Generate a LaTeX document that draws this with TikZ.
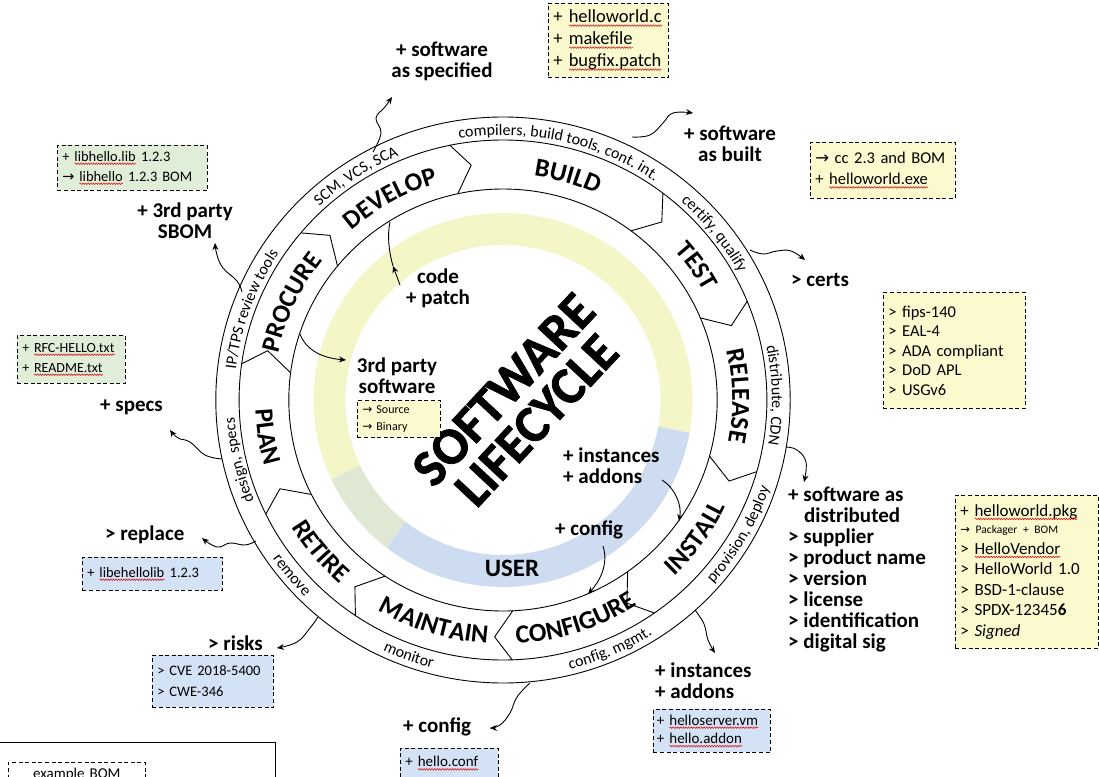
\documentclass[tikz,border=0pt]{standalone}
\usepackage{fontspec}
\setmainfont{Carlito}
\newfontfamily\symf{DejaVu Sans}
\newfontfamily\titlef[FakeBold=1.5]{Carlito}
\usetikzlibrary{decorations.text,decorations.pathmorphing,arrows.meta}
\definecolor{boxY}{HTML}{FBFACF}
\definecolor{boxG}{HTML}{E0EDD9}
\definecolor{boxB}{HTML}{D4E2F5}
\definecolor{bandY}{HTML}{F4F6C8}
\definecolor{bandG}{HTML}{E0E8D3}
\definecolor{bandB}{HTML}{CEDCF2}
\newcommand\arr{{\symf\char"2192}}
\newlength\sqlen
\newcommand\sq[1]{\settowidth\sqlen{#1}\rlap{#1}\tikz[baseline=0pt]\draw[solid,fill=none,draw=red!85!black,line width=0.5pt,decorate,decoration={snake,amplitude=0.8pt,segment length=2.6pt}] (0pt,-2.6pt) -- (\the\sqlen,-2.6pt);}
\newcommand\phf{\fontsize{26}{26}\selectfont\bfseries}
\newcommand\rgf{\fontsize{16}{16}\selectfont}
\newcommand\arcT[5]{\path[decorate,decoration={text along path,text={|#4|#5},text align=center}] plot[domain=#1:#2,samples=60] ({ex(\x,#3)},{ey(\x,#3)});}
\begin{document}
\begin{tikzpicture}[x=1pt,y=-1pt,
  declare function={ex(\a,\r)=503+1.015*\r*cos(\a); ey(\a,\r)=400-\r*sin(\a);},
  ring/.style={line width=0.9pt},
  warrow/.style={line width=0.9pt,-{Stealth[length=7pt,width=6pt]}},
  bx/.style={draw,line width=0.8pt,dash pattern=on 4pt off 2.6pt,align=left,inner xsep=5pt,inner ysep=2pt,anchor=north west},
  ybx/.style={bx,fill=boxY}, gbx/.style={bx,fill=boxG}, bbx/.style={bx,fill=boxB},
  lbl/.style={font=\fontsize{21}{21}\selectfont\bfseries,inner sep=0pt},
]
\useasboundingbox (0,0) rectangle (1099,776);
\fill[white] (0,0) rectangle (1099,776);

% coloured band
\draw[bandY,line width=32pt] plot[domain=-10:205,samples=150] ({ex(\x,171)},{ey(\x,171)});
\draw[bandG,line width=32pt] plot[domain=205:232,samples=30] ({ex(\x,171)},{ey(\x,171)});
\draw[bandB,line width=32pt] plot[domain=232:350,samples=90] ({ex(\x,171)},{ey(\x,171)});

% rings
\draw[ring] (503,400) ellipse [x radius=287.2pt,y radius=283pt];
\draw[ring] (503,400) ellipse [x radius=263.9pt,y radius=260pt];
\draw[ring] (503,400) ellipse [x radius=214.2pt,y radius=211pt];
\foreach \b in {172,140,101.6,52.7,22.3,-16,-55,-88,-124,-154}
  \draw[ring] ({ex(\b,260)},{ey(\b,260)}) -- ({ex(\b-4,237)},{ey(\b-4,237)}) -- ({ex(\b+0.6,211)},{ey(\b+0.6,211)});

% phase labels
\arcT{185}{125}{226}{\phf}{PROCURE}
\arcT{149}{89}{226}{\phf}{DEVELOP}
\arcT{104}{44}{226}{\phf}{BUILD}
\arcT{65}{5}{226}{\phf}{TEST}
\arcT{31}{-29}{226}{\phf}{RELEASE}
\arcT{-66}{-6}{244}{\phf}{INSTALL}
\arcT{-102}{-42}{244}{\phf}{CONFIGURE}
\arcT{-137}{-77}{244}{\phf}{MAINTAIN}
\arcT{-170}{-110}{244}{\phf}{RETIRE}
\arcT{-201}{-141}{244}{\phf}{PLAN}

% tool ring texts
\arcT{110}{45}{265}{\rgf}{compilers, build tools, cont. int.}
\arcT{153}{93}{265}{\rgf}{SCM, VCS, SCA}
\arcT{192}{128}{265}{\rgf}{IP/TPS review tools}
\arcT{68}{9}{265}{\rgf}{certify, qualify}
\arcT{32}{-30}{265}{\rgf}{distribute, CDN}
\arcT{223}{163}{265}{\rgf}{design, specs}
\arcT{-60}{0}{277}{\rgf}{provision, deploy}
\arcT{-97}{-37}{277}{\rgf}{config. mgmt.}
\arcT{-140}{-80}{277}{\rgf}{monitor}
\arcT{-170}{-110}{277}{\rgf}{remove}

% centre title
\node[font=\fontsize{52}{45}\selectfont\titlef\bfseries,align=center,rotate=47,inner sep=0pt] (title) at (520,405) {SOFTWARE\\LIFECYCLE};
\node[font=\fontsize{25}{25}\selectfont\bfseries,inner sep=0pt] (user) at (512,568) {USER};

% inner labels
\node[lbl,align=center] (code) at (438,288) {code\\+ patch};
\node[lbl,align=center] (third) at (397,376) {3rd party\\software};
\node[ybx,text width=73pt,minimum height=37pt,font=\fontsize{12}{17}\selectfont] (srcbox) at (357,400) {\arr\ Source\\\arr\ Binary};
\node[lbl,align=left,anchor=west] (inst) at (563,466) {+ instances\\+ addons};
\node[lbl,anchor=west] (cfgin) at (555,530) {+ config};

\coordinate (cPatch) at (400,285); \coordinate (cK) at (393,266); \coordinate (cRingK) at (390,222);
\draw[warrow] (cPatch) -- (cK);
\draw[ring] (cK) .. controls (389,252) and (387,236) .. (cRingK);
\coordinate (c3r) at (300,334); \coordinate (c3t) at (346,360);
\draw[warrow] (c3r) .. controls (306,350) and (322,358) .. (c3t);
\coordinate (cIn) at (662,480); \coordinate (cInR) at (679,521);
\draw[warrow] (cIn) .. controls (675,488) and (682,505) .. (cInR);
\coordinate (cCf) at (603,546); \coordinate (cCfR) at (588,594);
\draw[warrow] (cCf) .. controls (609,565) and (599,582) .. (cCfR);

% outer labels
\node[lbl,align=center] (spec) at (442,61) {+ software\\as specified};
\node[lbl,align=center] (built) at (730,144) {+ software\\as built};
\node[lbl,anchor=west] (certs) at (791,280) {> certs};
\node[lbl,align=left,anchor=west] (dist) at (788,569) {+ software as\\\hspace*{16pt}distributed\\> supplier\\> product name\\> version\\> license\\> identification\\> digital sig};
\node[lbl,align=left,anchor=west] (instx) at (655,681) {+ instances\\+ addons};
\node[lbl,anchor=west] (cfgx) at (403,727) {+ config};
\node[lbl,anchor=west] (risks) at (208,643) {> risks};
\node[lbl,anchor=west] (repl) at (105,535) {> replace};
\node[lbl,anchor=west] (specs) at (100,407) {+ specs};
\node[lbl,align=center] (sbom) at (185,221) {+ 3rd party\\SBOM};

% outer arrows
\coordinate (sA) at (373,152); \coordinate (tA) at (392,97);
\draw[warrow] plot[smooth,tension=0.7] coordinates {(sA) (381,133) (376,118) (385,107) (tA)};
\coordinate (sB) at (632,137); \coordinate (tB) at (693,113);
\draw[warrow] plot[smooth,tension=0.7] coordinates {(sB) (650,135) (663,123) (673,113) (tB)};
\coordinate (sC) at (750,250); \coordinate (tC) at (805,260);
\draw[warrow] plot[smooth,tension=0.7] coordinates {(sC) (763,254) (777,251) (791,251) (tC)};
\coordinate (sD) at (786,447); \coordinate (tD) at (804,482);
\draw[warrow] plot[smooth,tension=0.7] coordinates {(sD) (797,450) (806,462) (tD)};
\coordinate (sE) at (695,610); \coordinate (tE) at (715,653);
\draw[warrow] plot[smooth,tension=0.7] coordinates {(sE) (704,624) (708,640) (tE)};
\coordinate (sF) at (530,683); \coordinate (tF) at (490,728);
\draw[warrow] plot[smooth,tension=0.7] coordinates {(sF) (517,697) (510,713) (500,725) (tF)};
\coordinate (sG) at (318,617); \coordinate (tG) at (277,648);
\draw[warrow] plot[smooth,tension=0.7] coordinates {(sG) (310,628) (297,642) (tG)};
\coordinate (sH) at (256,541); \coordinate (tH) at (202,538);
\draw[warrow] plot[smooth,tension=0.7] coordinates {(sH) (245,545) (230,543) (217,547) (tH)};
\coordinate (sI) at (222,459); \coordinate (tI) at (170,430);
\draw[warrow] plot[smooth,tension=0.7] coordinates {(sI) (205,455) (190,442) (178,438) (tI)};
\coordinate (sJ) at (242,292); \coordinate (tJ) at (215,243);
\draw[warrow] plot[smooth,tension=0.7] coordinates {(sJ) (237,281) (223,268) (217,255) (tJ)};

% BOM boxes
\node[ybx,text width=110pt,minimum height=74pt,font=\fontsize{18.5}{22}\selectfont] (b1) at (548,3) {+ \sq{helloworld.c}\\+ \sq{makefile}\\+ \sq{bugfix.patch}};
\node[gbx,text width=140pt,minimum height=45pt,font=\fontsize{14.5}{20}\selectfont] (b2) at (57,145) {+ \sq{libhello.lib} 1.2.3\\\arr\ \sq{libhello} 1.2.3 BOM};
\node[gbx,text width=98pt,minimum height=48pt,font=\fontsize{14}{20}\selectfont] (b3) at (17,335) {+ \sq{RFC-HELLO.txt}\\+ \sq{README.txt}};
\node[ybx,text width=135pt,minimum height=56pt,font=\fontsize{16.5}{21}\selectfont] (b4) at (810,142) {\arr\ cc 2.3 and BOM\\+ \sq{helloworld.exe}};
\node[ybx,text width=132pt,minimum height=116pt,font=\fontsize{16.5}{19.5}\selectfont] (b5) at (883,292) {> fips-140\\> EAL-4\\> ADA compliant\\> DoD APL\\> USGv6};
\node[ybx,text width=133pt,minimum height=153pt,font=\fontsize{17}{20.5}\selectfont] (b6) at (955,495) {+ \sq{helloworld.pkg}\\[-3pt]{\fontsize{11.5}{14}\selectfont\arr\ Packager + BOM}\\> \sq{HelloVendor}\\> HelloWorld 1.0\\> BSD-1-clause\\> SPDX-12345\textbf{6}\\> \textit{Signed}};
\node[bbx,text width=130pt,minimum height=33pt,font=\fontsize{14.5}{19}\selectfont] (b7) at (82,557) {+ \sq{libehellolib} 1.2.3};
\node[bbx,text width=111pt,minimum height=52pt,font=\fontsize{14.5}{21}\selectfont] (b8) at (152,655) {> CVE 2018-5400\\> CWE-346};
\node[bbx,inner xsep=3.5pt,text width=110pt,minimum height=43pt,font=\fontsize{15}{18.5}\selectfont] (b9) at (653,709) {+ \sq{helloserver.vm}\\+ \sq{hello.addon}};
\node[bbx,text width=88pt,minimum height=30pt,font=\fontsize{15}{18}\selectfont] (b10) at (400,748) {+ \sq{hello.conf}};

% legend
\draw[line width=0.8pt] (-5,742) rectangle (275,800);
\node[bx,fill=white,text width=127pt,minimum height=24pt,align=center,font=\fontsize{15}{18}\selectfont] (leg) at (8,762) {example BOM};
\end{tikzpicture}
\end{document}
